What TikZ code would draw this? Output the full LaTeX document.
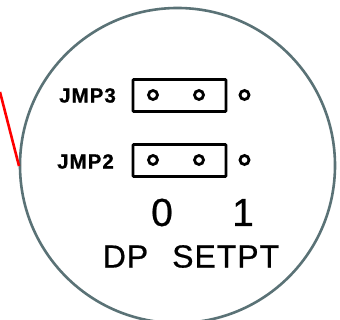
\documentclass[tikz,border=0pt]{standalone}
\usepackage{fontspec}
\setmainfont{Liberation Sans}
\definecolor{dialcol}{HTML}{5A7276}
\tikzset{
  lbl/.style={font=\fontsize{20.5}{21}\selectfont\bfseries\addfontfeature{LetterSpace=5,FakeBold=0.8}, inner sep=0pt, anchor=center},
  big/.style={font=\fontsize{39}{39}\selectfont\addfontfeature{FakeBold=0.6}, inner sep=0pt, anchor=center},
  title/.style={font=\fontsize{32}{32}\selectfont\addfontfeature{LetterSpace=3,FakeBold=0.6}, inner sep=0pt, anchor=center},
  jumper/.style={draw=black, line width=2.8pt, rounded corners=0.8pt, minimum width=93pt, minimum height=32pt, inner sep=0pt},
  pin/.style={circle, draw=black, line width=2.8pt, minimum size=9pt, inner sep=0pt}
}
\begin{document}
\begin{tikzpicture}[x=1pt,y=-1pt]
\useasboundingbox (0,0) rectangle (340,320);
\fill[white] (0,0) rectangle (340,320);
\node[circle, draw=dialcol, line width=2.6pt, minimum size=315pt, inner sep=0pt] (dial) at (177.5,165.5) {};
\coordinate (redstart) at (0,92);
\coordinate (redend) at (19,166);
\draw[red, line width=2.6pt] (redstart) -- (redend);
\node[lbl] (j3) at (87.5,95.5) {JMP3};
\node[lbl] (j2) at (85.5,161.5) {JMP2};
\node[jumper] (b3) at (179.5,95.5) {};
\node[jumper] (b2) at (179.5,160.5) {};
\node[pin] (p31) at (153,95) {};
\node[pin] (p32) at (199,95) {};
\node[pin] (p33) at (244.5,95) {};
\node[pin] (p21) at (153,160) {};
\node[pin] (p22) at (199,160) {};
\node[pin] (p23) at (244.5,160) {};
\node[big] (zero) at (162,212.5) {0};
\node[big] (one) at (243,212.5) {1};
\node[title] (ttl) at (191,256.5) {DP\hspace{24pt}SETPT};
\end{tikzpicture}
\end{document}
